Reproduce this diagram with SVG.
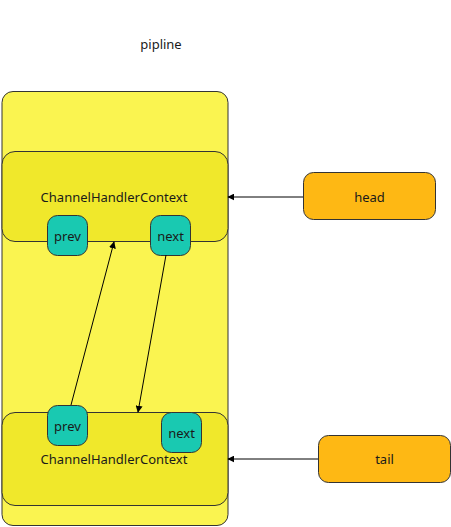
<svg xmlns="http://www.w3.org/2000/svg" width="451" height="527" viewBox="0 0 451 527">
<defs>
<marker id="arr" viewBox="0 0 10 10" refX="9" refY="5" markerWidth="7" markerHeight="7" orient="auto" markerUnits="userSpaceOnUse"><path d="M0,0 L10,5 L0,10 z" fill="#000"/></marker>
<style>
text{font-family:"Noto Sans","Open Sans","Liberation Sans",sans-serif;font-size:13px;fill:#1a1a1a;text-anchor:middle;dominant-baseline:central}
.outer{fill:#FAF450;stroke:#333;stroke-width:1}
.ctx{fill:#F0E82B;stroke:#333;stroke-width:1}
.ptr{fill:#19C9B1;stroke:#333;stroke-width:1}
.end{fill:#FEB814;stroke:#333;stroke-width:1}
.c{stroke:#000;stroke-width:1;fill:none;marker-end:url(#arr)}
</style>
</defs>
<rect width="451" height="527" fill="#fff"/>
<g id="title"><text x="161" y="44">pipline</text></g>
<g id="pipeline"><rect class="outer" x="2" y="91.5" width="226" height="434" rx="11"/></g>
<g id="ctx1"><rect class="ctx" x="2" y="151.5" width="226" height="90" rx="13"/><text x="114" y="197">ChannelHandlerContext</text></g>
<g id="prev1"><rect class="ptr" x="47.5" y="215.5" width="40" height="40" rx="10"/><text x="67.5" y="236">prev</text></g>
<g id="next1"><rect class="ptr" x="150.5" y="215.5" width="40" height="40" rx="10"/><text x="170.5" y="236">next</text></g>
<g id="ctx2"><rect class="ctx" x="2" y="412.5" width="226" height="93" rx="13"/><text x="114" y="459">ChannelHandlerContext</text></g>
<g id="prev2"><rect class="ptr" x="47.5" y="405.5" width="40" height="40" rx="10"/><text x="67.5" y="426">prev</text></g>
<g id="next2"><rect class="ptr" x="161.5" y="412.5" width="40" height="40" rx="10"/><text x="181.5" y="433">next</text></g>
<g id="head"><rect class="end" x="303.5" y="172.5" width="132" height="47" rx="10"/><text x="369.5" y="197">head</text></g>
<g id="tail"><rect class="end" x="318.5" y="435.5" width="132" height="47" rx="10"/><text x="384.5" y="459">tail</text></g>
<g id="connectors">
<line class="c" x1="303" y1="197" x2="228" y2="197"/>
<line class="c" x1="318" y1="459" x2="228" y2="459"/>
<line class="c" x1="71" y1="405" x2="114" y2="242"/>
<line class="c" x1="166" y1="255" x2="138" y2="412"/>
</g>
</svg>
